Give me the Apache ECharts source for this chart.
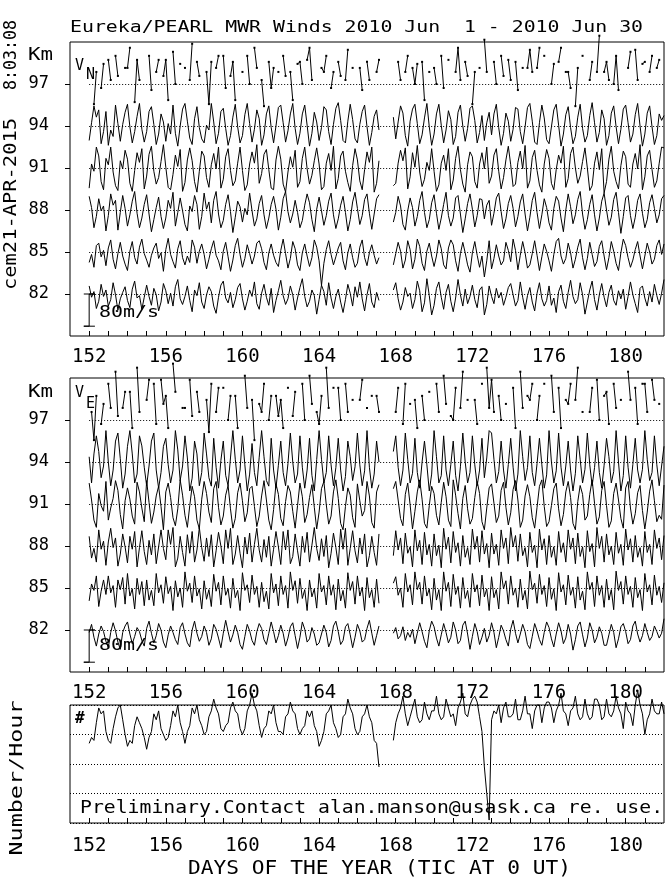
<!DOCTYPE html>
<html>
<head>
<meta charset="utf-8">
<script src="https://cdn.jsdelivr.net/npm/echarts@6/dist/echarts.min.js"></script>
<style>
  html, body { margin: 0; padding: 0; background: #fff; }
  #chart { width: 672px; height: 877px; }
</style>
</head>
<body>
<div id="chart"></div>
<script>
// samples every 3 h, day 152.0 ... 182.0 (8 per day), null = no data
const DAY_START = 152;
const STEP = 1 / 8;
const LEVELS = [82, 85, 88, 91, 94, 97];
const X_TICKS = [152,153,154,155,156,157,158,159,160,161,162,163,164,165,166,167,168,169,170,171,172,173,174,175,176,177,178,179,180,181];
const X_LABELS = [152, 156, 160, 164, 168, 172, 176, 180];
const BAR_MS = 80;      // scale bar "80m/s"
const BAR_KM = 2.3;     // drawn length of the bar in km
const KM_PER_MS = BAR_KM / BAR_MS;

// meridional wind V_N (m/s)
const VN_82 = [
  20,-8,6,-36,-18,24,-6,10, -30,-14,28,-2,-40,-12,4,18, -16,-34,12,32,-10,-4,-38,-8,
  22,-6,-28,14,-2,-42,-20,26, 8,-24,2,-30,18,36,-12,-26, -6,20,-16,-44,10,-4,28,-20,
  -36,-2,18,6,-30,-48,-8,22, 32,-10,-22,4,-34,-14,16,26, -12,-40,-18,10,-6,30,-24,-38,
  2,24,-8,-28,14,-46,-16,8, 34,-4,-26,-12,20,-2,-40,-10, 16,38,-6,-32,-18,10,-4,-50,
  -14,22,6,-28,28,-10,-36,-6, 12,-20,-46,-14,24,2,-30,18, -8,30,-12,-42,-2,26,-20,-34,
  4,-16,null,null,null,null,null,10,
  28,-12,-40,-20,16,-6,2,-36, -14,32,8,-44,-22,38,-4,-52, -28,14,30,-8,-38,4,24,-18,
  -44,-10,36,-2,-30,12,-24,-6, 22,-14,-34,10,18,-52,-26,20, -6,-24,14,-10,4,-28,-8,16,
  26,-2,-30,-16,30,-8,-38,-4, 16,-20,-42,2,28,-12,-30,-16, 20,-28,-10,-46,6,22,-18,-36,
  4,34,-6,-24,-14,28,-2,-50, -20,10,32,-14,-40,-2,26,-8, -32,4,22,-16,-28,8,-12,12,
  -38,-6,30,-2,-24,-46,14,20, -10,-30,6,-20,24,-4,-26,2, 36
];
const VN_85 = [
  -26,-6,-38,16,22,-12,4,-34, 10,30,-18,-42,-4,24,-10,-30, -46,2,26,-14,-30,12,32,-4,
  -20,-38,-8,10,22,-16,-2,-48, 6,34,-6,-24,-40,8,28,-14, -32,-10,-26,30,12,-28,2,20,
  -6,-42,-18,8,28,-8,-22,-44, 2,24,-12,-48,-20,16,34,-6, -38,-16,18,-4,-30,-10,22,28,
  8,-26,-44,-2,20,-8,-26,-36, 4,32,-4,-40,-16,26,8,-32, -46,-2,20,-10,-36,-14,30,12,
  -22,-83,-28,6,28,-6,-32,-12, 10,24,-22,-44,-2,20,-14,-38, -28,12,30,-14,-34,-2,18,-8,
  -30,-14,null,null,null,null,null,-32,
  -4,24,2,-40,-20,28,6,-42, -18,32,14,-28,-46,2,22,-10, -36,-10,30,8,-32,-42,10,30,
  18,-22,-48,-4,24,-2,-32,-50, -2,26,-8,-38,-10,-62,-22,28, -42,-16,18,-10,-32,-22,24,4,
  -24,32,4,-44,-8,26,-2,-40, -32,-4,28,-8,-46,-12,20,2, -22,-48,-6,26,34,-10,-30,-16,
  22,-2,-40,-18,12,32,-14,-44, -16,24,-6,-36,-24,14,28,-10, -44,-14,26,2,-28,-46,-2,32,
  16,-14,-38,-20,6,26,-10,-42, -10,22,0,-30,-18,16,30,-6, 20
];
const VN_88 = [
  34,6,-44,-16,28,-2,10,-52, -14,40,12,24,-50,-6,36,4, -40,-12,22,46,-8,-44,-20,14,
  38,-10,-54,-24,6,32,-16,-46, -20,24,4,44,-40,-6,30,-2, -36,-52,10,-4,36,14,-48,-16,
  42,2,20,-32,24,46,-10,-44, -26,14,38,-4,-56,-18,22,8, -30,4,-12,42,-2,-40,-22,16,
  36,-12,-46,-20,14,34,2,-50, -18,28,46,-4,-32,-10,24,-6, -44,-26,12,40,18,-24,-54,2,
  32,-2,-38,-14,22,42,-12,-46, -22,12,34,-6,-52,-24,20,44, 4,-36,-14,26,40,-8,-48,-10,
  28,38,null,null,null,null,null,-30,
  -6,34,10,-36,-50,-2,30,6, -40,-16,24,46,-6,-44,-24,18, 38,-8,-48,-20,14,44,-14,-40,
  -20,30,36,-10,-56,-22,16,40, 2,-42,-14,28,26,-22,12,24, -38,-8,30,42,-4,-46,-22,16,
  36,4,-42,-16,20,40,-10,-52, -18,24,44,-6,-46,-12,28,6, -32,-50,4,34,22,-20,-54,0,
  40,8,-34,-12,26,46,-10,-48, -24,14,38,-12,-52,-20,22,42, 0,-38,-18,26,44,-6,-58,-16,
  30,36,-14,-46,-18,24,40,-8, -44,-24,18,38,4,-32,-12,28, 36
];
const VN_91 = [
  -50,10,-8,52,30,-34,-54,24, 8,52,-10,-44,-56,18,-2,44, 22,-38,-58,-6,38,14,48,-52,
  -20,34,54,-8,-40,-24,16,58, 2,-48,-54,-16,32,4,46,-58, -36,20,50,18,-34,-60,-8,42,
  30,-24,-48,8,36,-2,52,-50, -28,28,48,-6,-44,-32,12,52, -6,-56,-42,10,40,12,58,-38,
  -14,34,46,-4,-50,-54,20,54, 22,-40,-60,-10,28,2,44,-48, -34,24,52,-2,-40,-18,18,50,
  10,-54,-46,12,36,-6,54,-52, -26,30,42,-8,-36,-58,6,48, 20,-32,-54,-4,40,14,52,-60,
  -38,18,null,null,null,null,null,-44,
  -38,12,44,18,50,-52,-22,38, 2,56,-10,-46,-28,14,-6,48, -8,-58,-42,12,32,-6,48,-54,
  -30,24,54,-4,-40,-60,8,40, 28,-34,-50,10,38,-2,52,-38, -20,32,48,-8,-52,-24,20,54,
  8,-46,-40,14,42,-2,56,-50, -32,26,44,-6,-42,-60,10,46, 24,-38,-54,-4,32,12,54,-48,
  -26,36,52,0,-38,-20,16,50, 0,-56,-44,12,40,-4,48,-62, -34,22,54,-8,-34,-52,6,42,
  28,-40,-48,10,36,-2,58,-54, -22,30,44,-4,-48,-32,12,52, 50
];
const VN_94 = [
  -36,8,50,22,40,-44,-14,36, -48,-10,-26,52,6,-38,4,34, 54,-2,-42,-14,24,56,-8,-40,
  -14,36,48,4,-46,-20,30,10, -38,6,-20,52,-18,-50,0,42, 56,12,-30,-46,18,48,-4,-32,
  -42,2,-10,56,10,-44,-18,36, 44,-6,-48,-24,22,54,-2,-42, -24,28,56,6,-40,-8,40,18,
  -48,-22,30,50,-4,-42,0,46, 52,8,-40,-12,30,56,-6,-46, -18,30,52,2,-50,-18,34,10,
  -36,-4,48,40,-14,-46,4,44, 58,14,-36,-42,12,54,16,-32, -42,4,36,52,-2,-48,-16,24,
  40,-10,null,null,null,null,null,22,
  -32,10,50,32,-24,-50,12,42, 54,6,-44,-22,20,56,-2,-48, -20,30,54,2,-42,-10,38,16,
  -46,-26,34,52,0,-38,-6,44, 50,14,-42,-16,26,-36,8,34, -22,30,54,-4,-48,-18,32,12,
  -38,-8,46,42,-14,-44,-2,46, 56,12,-40,-46,8,52,20,-34, -44,-2,40,54,2,-50,-20,28,
  48,-4,-44,-26,22,54,-6,-40, -24,26,58,8,-40,-16,40,18, -48,-24,32,50,-2,-44,-8,42,
  52,8,-40,-20,28,56,0,-50, -20,32,50,-2,-46,-24,30,14, 26
];
const VN_97 = [
  null,null,-50,30,null,-10,50,null, 60,10,null,70,20,null,null,40, 40,90,null,-45,60,10,null,null,
  null,70,-15,null,30,60,null,20, 60,-40,null,80,0,null,50,null, 40,null,10,100,null,55,20,null,
  null,30,-50,55,null,40,70,null, 70,-10,null,20,55,-40,null,null, 30,null,70,0,null,90,40,null,
  10,-55,null,55,-10,40,null,30, null,70,20,null,30,-40,null,50, 55,0,null,60,90,10,null,null,
  null,40,30,70,null,-10,30,null, 55,20,null,10,85,null,40,null, null,40,-15,null,55,10,null,null,
  30,60,null,null,null,null,null,null,
  null,55,10,null,30,70,null,40, 0,50,null,55,-40,null,30,null, 40,0,null,70,-10,null,60,null,
  null,30,90,10,null,55,20,null, -50,30,null,40,null,110,30,null, null,55,0,null,70,20,null,60,
  10,null,55,-15,null,40,null,40, 85,30,null,40,90,null,70,null, null,0,50,null,55,90,null,30,
  30,-10,null,-55,40,null,70,null, null,10,55,null,30,120,null,30, 55,10,null,0,70,-15,null,null,
  null,40,80,null,85,10,null,50, 55,null,30,70,null,40,60,null, null
];

// zonal wind V_E (m/s)
const VE_82 = [
  -6,14,-18,-40,-10,10,-4,-28, -44,-6,18,-2,-30,-48,-6,10, 20,-10,-34,-16,6,-4,-26,-40,
  4,22,-8,-32,-14,16,0,-30, -44,-12,10,-6,-24,-36,6,18, -10,-32,-42,0,22,-8,-28,-16,
  10,-6,-38,-22,14,2,-20,-44, -8,24,-4,-30,-12,12,-6,-36, -48,-16,14,-2,-26,-38,-4,16,
  4,-24,-36,-8,20,-4,-32,-14, 12,-8,-40,-20,8,18,-14,-46, -18,20,2,-30,-22,6,-10,-38,
  -32,-10,12,-6,-42,-26,10,22, -4,-36,-26,8,16,-12,-44,-18, 14,-2,-30,-24,4,24,-8,-38,
  -14,10,null,null,null,null,null,-8,
  6,-22,-14,8,-26,-6,-18,2, -34,-8,18,-4,-28,-44,-2,22, 8,-20,-40,-12,16,-6,-32,-18,
  20,0,-34,-26,12,22,-10,-48, -16,16,-4,-36,-18,4,-30,-14, 18,-6,-44,-18,12,-2,-24,-40,
  2,24,-8,-32,-10,14,-4,-36, -46,-16,16,-2,-24,-38,-6,20, 6,-22,-42,-10,18,-2,-34,-20,
  14,-10,-50,-24,10,20,-12,-42, -20,18,0,-32,-18,8,-8,-38, -38,-12,14,-6,-44,-22,8,16,
  -4,-34,-24,10,22,-10,-30,-14, 16,-6,-26,-16,10,-4,-20,-8, 28
];
const VE_85 = [
  -32,10,-6,30,-46,-8,20,-16, 30,-12,6,-48,20,-4,26,-40, 36,-20,-2,-52,24,-16,16,-44,
  20,-30,-6,-44,36,-12,8,-38, 28,-14,4,-56,18,-22,0,-48, 40,-8,12,-36,30,-20,-2,-52,
  18,-28,-4,-46,34,-8,14,-42, 30,-18,-2,-50,24,-24,-6,-56, 38,-6,8,-36,32,-16,4,-48,
  14,-34,-8,-52,36,-12,10,-44, 30,-16,6,-50,40,-6,18,-38, 24,-26,-4,-56,20,-22,-2,-50,
  36,-10,6,-42,30,-18,8,-54, 22,-32,-6,-50,38,-6,16,-40, 30,-20,2,-56,26,-24,-4,-48,
  22,-38,null,null,null,null,null,12,
  28,-18,0,-48,36,-10,8,-42, 40,-4,14,-40,30,-20,-2,-54, 24,-30,-4,-56,40,-8,14,-46,
  34,-16,4,-50,26,-26,-6,-48, 36,-10,8,-44,32,-22,-2,-56, 28,-24,-4,-52,40,-2,18,-40,
  30,-18,0,-48,22,-30,-6,-52, 42,-4,12,-38,34,-16,6,-46, 26,-28,-2,-56,38,-10,8,-42,
  32,-18,2,-50,28,-30,-8,-54, 40,-4,14,-46,30,-18,6,-48, 22,-30,-4,-54,42,-6,16,-40,
  30,-16,4,-48,26,-24,-4,-56, 36,-10,8,-42,32,-18,4,-36, 13
];
const VE_88 = [
  24,-30,-6,-40,40,-8,12,-48, 10,44,-4,20,-50,-20,30,-2, -42,24,-8,36,-52,-4,38,-14,
  -46,14,-22,30,-44,-2,40,-6, -34,40,4,46,-52,-30,24,-16, -50,28,-18,36,-40,-10,46,-4,
  -38,20,-26,28,-52,-12,34,0, -44,40,-6,44,-46,-20,26,-18, -54,22,-20,32,-40,4,44,-10,
  -40,16,-28,24,-50,-8,36,-2, -46,36,-10,40,-44,-26,30,-12, -50,24,-16,34,-40,2,46,-6,
  -36,18,-26,26,-54,-18,32,-4, -46,42,-8,44,-48,-6,38,-12, -42,20,-20,30,-52,-24,24,-16,
  -48,30,null,null,null,null,null,-24,
  38,-10,20,-44,32,-18,-2,-52, 40,-12,14,-46,34,-22,4,-50, 30,-24,2,-54,44,-8,22,-42,
  36,-16,8,-50,26,-28,-4,-46, 42,-8,24,-40,38,-20,6,-54, 32,-20,4,-48,40,-6,20,-44,
  46,-2,26,-38,30,-24,-4,-52, 34,-16,2,-54,42,-10,18,-46, 26,-28,-2,-48,36,-16,8,-40,
  40,-8,20,-44,32,-26,-2,-54, 38,-14,6,-52,46,-6,24,-40, 30,-22,0,-46,34,-18,4,-48,
  42,-10,18,-40,26,-28,-4,-50, 36,-16,4,-46,40,-6,20,-34, 26
];
const VE_91 = [
  52,10,-40,-58,26,-4,-18,56, -40,-10,14,58,34,-26,-62,8, 40,12,-30,-50,54,30,-10,-44,
  58,4,-48,-20,20,44,-6,-64, 30,52,16,-34,-54,-12,60,22, -28,-58,-4,44,18,-40,-62,12,
  56,26,-20,-46,38,56,-8,-52, -30,22,46,-12,-60,-36,28,52, 8,-44,-22,38,44,-6,-56,-30,
  20,58,10,-40,-64,-14,50,24, -36,-54,6,46,30,-18,-60,-4, 52,18,-46,-26,16,48,-8,-62,
  -20,38,56,-2,-50,-30,30,60, 14,-48,-64,-6,40,22,-34,-58, 50,8,-30,-16,56,20,-46,-60,
  30,48,null,null,null,null,null,38,
  56,10,-36,-54,24,52,-2,-62, -18,30,60,12,-48,-60,-4,44, 26,-28,-52,4,54,18,-40,-56,
  60,22,-24,-62,14,46,-12,-50, -36,16,56,26,-44,-64,-10,40, 50,2,-46,-30,34,54,-8,-52,
  -22,36,58,10,-58,-40,20,48, 18,-34,-60,-8,44,60,-6,-56, -44,-4,38,52,-12,-54,-26,30,
  56,16,-48,-64,6,46,24,-40, -30,24,60,2,-50,-32,34,56, -4,-58,-42,26,52,10,-36,-60,
  40,56,-10,-50,-24,28,46,-16, -62,-20,32,60,8,-44,-28,-38, 47
];
const VE_94 = [
  13,-52,20,65,26,-39,-10,78, 0,-59,-20,52,72,8,-65,-30, 39,78,20,-52,-30,65,40,-13,
  -59,-10,52,72,-20,-65,-26,39, 59,-7,-52,-20,78,30,-46,-10, 65,10,-72,-40,52,20,-59,-26,
  72,20,-39,-60,59,-13,-65,4, 52,-33,-59,10,78,7,-52,-20, 65,-7,-72,-30,46,-26,-59,12,
  78,13,-46,-60,59,-20,-65,-8, 52,-26,-59,-4,72,0,-52,-30, 65,-13,-65,-20,59,-33,-72,6,
  78,7,-52,-26,65,-7,-59,-14, 59,-20,-72,-36,52,13,-46,-12, 72,-7,-59,-22,78,-13,-65,-30,
  52,0,null,null,null,null,null,26,
  65,-13,-59,-20,72,7,-52,-28, 59,-26,-65,0,52,-7,-72,-30, 78,13,-52,-34,65,-20,-59,-6,
  52,-33,-72,-12,72,0,-52,-26, 65,-7,-59,-20,59,-39,10,78, 72,7,-52,-24,52,-20,-65,-6,
  59,-13,-72,-30,78,13,-46,-14, 65,-26,-59,-4,59,-7,-65,-32, 78,0,-52,-22,72,-13,-59,-10,
  52,-20,-72,-28,65,7,-52,-18, 72,-7,-59,-14,52,-26,-65,-8, 59,13,-52,-24,78,0,-72,-34,
  65,-13,-65,-6,59,-20,-52,-18, 78,7,-46,-26,65,-7,-59,-10, 39
];
const VE_97 = [
  null,20,-50,60,null,-10,40,null, 90,30,null,120,10,null,30,70, null,70,-20,null,130,20,null,null,
  50,100,null,90,-10,null,100,40, 60,-20,null,140,70,null,null,30, 30,null,100,10,null,70,20,null,
  null,50,-30,90,null,20,80,null, 80,null,0,60,null,60,-20,null, null,110,30,null,50,-50,null,40,
  20,90,null,0,60,null,60,10, 50,-20,null,80,null,10,70,null, null,90,0,null,110,40,null,20,
  -10,60,null,130,30,null,80,null, 80,0,null,90,20,null,50,null, null,50,100,null,30,null,60,null,
  60,20,null,null,null,null,null,null,
  20,80,null,-10,90,null,40,null, 50,-20,null,60,0,null,70,null, null,90,20,null,110,40,null,10,
  0,80,null,30,120,null,50,null, null,50,-10,null,90,null,130,30, 100,20,null,60,0,null,40,null,
  null,80,-20,null,120,30,null,60, 50,90,null,0,60,null,90,null, null,110,20,null,80,-20,null,50,
  40,90,null,50,130,null,20,null, null,20,80,null,100,0,null,60, 70,-10,null,90,30,null,50,null,
  null,120,50,null,80,-10,null,90, 90,20,null,100,50,null,40,null, null
];

// meteor echoes, number per hour (relative units, axis 0..40)
const COUNT = [
  27,29,28,34,39,37,38,31, 28,27,32,36,39,40,35,30, 26,28,27,33,36,34,32,29,
  25,29,31,37,35,38,32,30, 28,29,33,38,36,40,34,31, 27,31,33,39,37,40,35,33,
  30,31,36,38,42,39,37,32, 31,33,34,39,41,38,37,32, 30,32,38,40,44,40,38,33,
  29,32,33,38,37,40,34,31, 31,30,36,37,41,38,37,32, 30,32,33,38,36,38,33,31,
  26,28,31,37,38,40,34,32, 29,30,36,37,42,39,37,32, 30,31,36,37,40,36,34,28,
  27,19,null,null,null,null,null,28,
  34,37,39,43,37,33,36,39, 42,36,34,35,41,37,35,38, 38,43,37,35,36,42,39,36,
  37,33,39,41,44,37,36,40, 42,43,41,36,31,19,10,1, 35,38,37,40,34,39,41,36,
  36,37,42,35,35,38,43,37, 37,32,38,40,40,34,39,41, 41,39,34,38,40,44,38,37,
  33,38,39,43,37,35,36,42, 37,35,36,42,42,40,35,36, 42,37,36,38,43,39,37,32,
  41,38,37,33,40,45,40,37, 30,35,37,42,38,37,37,41, 37
];

const DAYS = COUNT.map((_, i) => DAY_START + i * STEP);
const VN = [VN_82, VN_85, VN_88, VN_91, VN_94, VN_97];
const VE = [VE_82, VE_85, VE_88, VE_91, VE_94, VE_97];

const chart = echarts.init(document.getElementById('chart'));
const MONO = '"DejaVu Sans Mono", monospace';
const BLACK = '#000';

function xAxisFor(idx, margin) {
  return {
    type: 'value', gridIndex: idx, min: 151, max: 182,
    axisLine: { show: false },
    axisTick: { show: true, inside: true, length: 5, customValues: X_TICKS, lineStyle: { color: BLACK } },
    axisLabel: { customValues: X_LABELS, color: BLACK, fontFamily: MONO, fontSize: 19, margin: margin },
    splitLine: { show: false }
  };
}

function yAxisKm(idx) {
  return {
    type: 'value', gridIndex: idx, min: 79, max: 100,
    axisLine: { show: false },
    axisTick: { show: true, length: 5, customValues: LEVELS, lineStyle: { color: BLACK } },
    axisLabel: { customValues: LEVELS, color: BLACK, fontFamily: MONO, fontSize: 17, margin: 21 },
    splitLine: { show: false }
  };
}

function windSeries(values, level, panel) {
  const top = level === 97;
  return {
    type: 'line', xAxisIndex: panel, yAxisIndex: panel,
    data: values.map((v, i) => [DAYS[i], v == null ? '-' : level + v * KM_PER_MS]),
    showSymbol: top, showAllSymbol: true, symbol: 'rect', symbolSize: 2,
    itemStyle: { color: BLACK },
    lineStyle: { color: BLACK, width: 1 },
    connectNulls: false, clip: false, silent: true
  };
}

// scale bar + dotted level lines for one wind panel
function barSeries(panel) {
  const top = LEVELS[0];
  const bottom = top - BAR_MS * KM_PER_MS;
  return {
    type: 'line', xAxisIndex: panel, yAxisIndex: panel,
    data: [[DAY_START - 0.28, top], [DAY_START + 0.3, top], [DAY_START, top],
           [DAY_START, bottom], [DAY_START - 0.28, bottom], [DAY_START + 0.3, bottom]],
    showSymbol: false, lineStyle: { color: BLACK, width: 1 }, clip: false, silent: true,
    markLine: {
      silent: true, symbol: 'none', label: { show: false },
      lineStyle: { color: BLACK, width: 1, type: [1, 2] },
      data: LEVELS.map(l => [{ coord: [DAY_START, l] }, { coord: [182, l] }])
    }
  };
}

function txt(str, x, y, size, width, extra) {
  const adv = 0.602 * size;
  return Object.assign({
    type: 'text', x: x, y: y, silent: true,
    scaleX: width ? width / (adv * str.length) : 1,
    style: { text: str, fill: BLACK, font: size + 'px ' + MONO,
             align: 'left', verticalAlign: 'middle', textAlign: 'left', textVerticalAlign: 'middle' }
  }, extra || {});
}
function rotTxt(str, x, y, size, width) {
  const t = txt(str, x, y, size, width, { rotation: Math.PI / 2 });
  t.style.align = 'center';
  t.style.textAlign = 'center';
  return t;
}

const series = [];
LEVELS.forEach((lvl, k) => series.push(windSeries(VN[k], lvl, 0)));
LEVELS.forEach((lvl, k) => series.push(windSeries(VE[k], lvl, 1)));
series.push(barSeries(0), barSeries(1));
series.push({
  type: 'line', xAxisIndex: 2, yAxisIndex: 2,
  data: COUNT.map((v, i) => [DAYS[i], v == null ? '-' : v]),
  showSymbol: false, lineStyle: { color: BLACK, width: 1 },
  connectNulls: false, clip: false, silent: true
});

const gridBase = { left: 70, width: 594, show: true, borderColor: BLACK, borderWidth: 1,
                   backgroundColor: 'transparent', outerBoundsMode: 'none' };

const graphics = [
  txt('Eureka/PEARL MWR Winds 2010 Jun  1 - 2010 Jun 30', 70, 28, 16, 573),
  txt('Km', 28, 56, 17, 25),
  txt('Km', 28, 393, 17, 25),
  txt('V', 75, 66, 15, 0),
  txt('N', 86, 75, 15, 0),
  txt('V', 75, 393, 15, 0),
  txt('E', 86, 404, 15, 0),
  txt('80m/s', 99, 313, 16, 60),
  txt('80m/s', 99, 646, 16, 60),
  txt('#', 75, 719, 16, 0, { style: { text: '#', fill: BLACK, font: 'bold 16px ' + MONO, verticalAlign: 'middle', textVerticalAlign: 'middle' } }),
  txt('Preliminary.Contact alan.manson@usask.ca re. use.', 80, 808, 18, 583),
  txt('DAYS OF THE YEAR (TIC AT 0 UT)', 188, 869, 19, 383),
  rotTxt('Number/Hour', 17, 778, 18, 155),
  rotTxt('cem21-APR-2015', 11, 204, 18, 172),
  rotTxt('8:03:08', 11, 55, 18, 70)
];
// length check while building
const bad = VN.concat(VE).filter(a => a.length !== COUNT.length).map(a => a.length);
if (bad.length || COUNT.length !== 241) {
  graphics.push({ type: 'text', x: 200, y: 400, style: { text: 'LEN ' + COUNT.length + ' ' + bad.join(','), fill: 'red', font: '20px sans-serif' } });
}

chart.setOption({
  animation: false,
  backgroundColor: '#fff',
  grid: [
    Object.assign({ top: 42, height: 294 }, gridBase),
    Object.assign({ top: 378, height: 294 }, gridBase),
    Object.assign({ top: 705, height: 118 }, gridBase)
  ],
  xAxis: [xAxisFor(0, 12), xAxisFor(1, 12), xAxisFor(2, 14)],
  yAxis: [
    yAxisKm(0), yAxisKm(1),
    {
      type: 'value', gridIndex: 2, min: 0, max: 40, interval: 10,
      axisLine: { show: false }, axisTick: { show: false }, axisLabel: { show: false },
      splitLine: { show: true, lineStyle: { color: BLACK, width: 1, type: [1, 2] } }
    }
  ],
  series: series,
  graphic: graphics
});
</script>
</body>
</html>
